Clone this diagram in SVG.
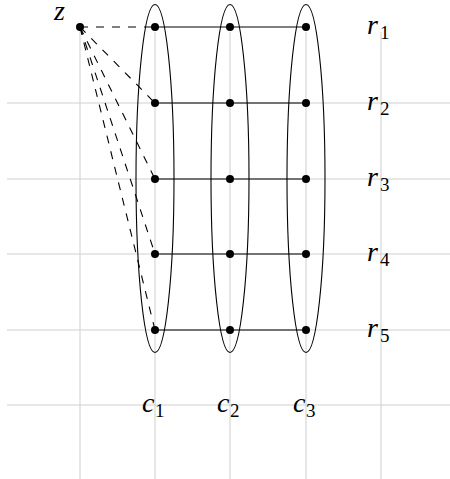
<svg xmlns="http://www.w3.org/2000/svg" width="450" height="479" viewBox="0 0 450 479">
<style>
.grid line{stroke:#c9c9c9;stroke-width:0.9}
.m{font-family:"Liberation Serif",serif;font-style:italic;font-size:28px;fill:#000}
.s{font-family:"Liberation Serif",serif;font-style:normal;font-size:19px}
.sol{stroke:#000;stroke-width:1.1;fill:none}
.dash{stroke:#000;stroke-width:1.1;stroke-dasharray:8 8;fill:none}
.ell{stroke:#000;stroke-width:1.1;fill:none}
.dot{fill:#000}
</style>
<rect width="450" height="479" fill="#fff"/>
<g class="grid" id="grid">
<line x1="7" y1="103" x2="450" y2="103"/>
<line x1="7" y1="179" x2="450" y2="179"/>
<line x1="7" y1="254" x2="450" y2="254"/>
<line x1="7" y1="330" x2="450" y2="330"/>
<line x1="7" y1="405" x2="450" y2="405"/>
<line x1="80" y1="30" x2="80" y2="479"/>
<line x1="155" y1="32" x2="155" y2="479"/>
<line x1="230" y1="32" x2="230" y2="479"/>
<line x1="306" y1="32" x2="306" y2="479"/>
<line x1="381" y1="32" x2="381" y2="479"/>
</g>
<g id="connectors">
<line class="dash" x1="80" y1="27" x2="155" y2="27"/>
<line class="dash" x1="80" y1="27" x2="155" y2="103"/>
<line class="dash" x1="80" y1="27" x2="155" y2="179"/>
<line class="dash" x1="80" y1="27" x2="155" y2="254"/>
<line class="dash" x1="80" y1="27" x2="155" y2="330"/>
<line class="sol" x1="155" y1="27" x2="306" y2="27"/>
<line class="sol" x1="155" y1="103" x2="306" y2="103"/>
<line class="sol" x1="155" y1="179" x2="306" y2="179"/>
<line class="sol" x1="155" y1="254" x2="306" y2="254"/>
<line class="sol" x1="155" y1="330" x2="306" y2="330"/>
</g>
<g id="col1"><ellipse class="ell" cx="155" cy="178.5" rx="19" ry="174"/></g>
<g id="col2"><ellipse class="ell" cx="230" cy="178.5" rx="19" ry="174"/></g>
<g id="col3"><ellipse class="ell" cx="306" cy="178.5" rx="19" ry="174"/></g>
<g id="z"><circle class="dot" cx="80" cy="27" r="4"/><text class="m" x="54" y="20">z</text></g>
<g id="nodes">
<circle class="dot" cx="155" cy="27" r="4"/><circle class="dot" cx="230" cy="27" r="4"/><circle class="dot" cx="306" cy="27" r="4"/>
<circle class="dot" cx="155" cy="103" r="4"/><circle class="dot" cx="230" cy="103" r="4"/><circle class="dot" cx="306" cy="103" r="4"/>
<circle class="dot" cx="155" cy="179" r="4"/><circle class="dot" cx="230" cy="179" r="4"/><circle class="dot" cx="306" cy="179" r="4"/>
<circle class="dot" cx="155" cy="254" r="4"/><circle class="dot" cx="230" cy="254" r="4"/><circle class="dot" cx="306" cy="254" r="4"/>
<circle class="dot" cx="155" cy="330" r="4"/><circle class="dot" cx="230" cy="330" r="4"/><circle class="dot" cx="306" cy="330" r="4"/>
</g>
<g id="r1"><text class="m" x="367" y="34">r<tspan class="s" x="380" y="39">1</tspan></text></g>
<g id="r2"><text class="m" x="367" y="110">r<tspan class="s" x="380" y="115">2</tspan></text></g>
<g id="r3"><text class="m" x="367" y="186">r<tspan class="s" x="380" y="191">3</tspan></text></g>
<g id="r4"><text class="m" x="367" y="261">r<tspan class="s" x="380" y="266">4</tspan></text></g>
<g id="r5"><text class="m" x="367" y="337">r<tspan class="s" x="380" y="342">5</tspan></text></g>
<g id="c1"><text class="m" x="142" y="412">c<tspan class="s" x="155" y="417">1</tspan></text></g>
<g id="c2"><text class="m" x="217" y="412">c<tspan class="s" x="230" y="417">2</tspan></text></g>
<g id="c3"><text class="m" x="293" y="412">c<tspan class="s" x="306" y="417">3</tspan></text></g>
</svg>
